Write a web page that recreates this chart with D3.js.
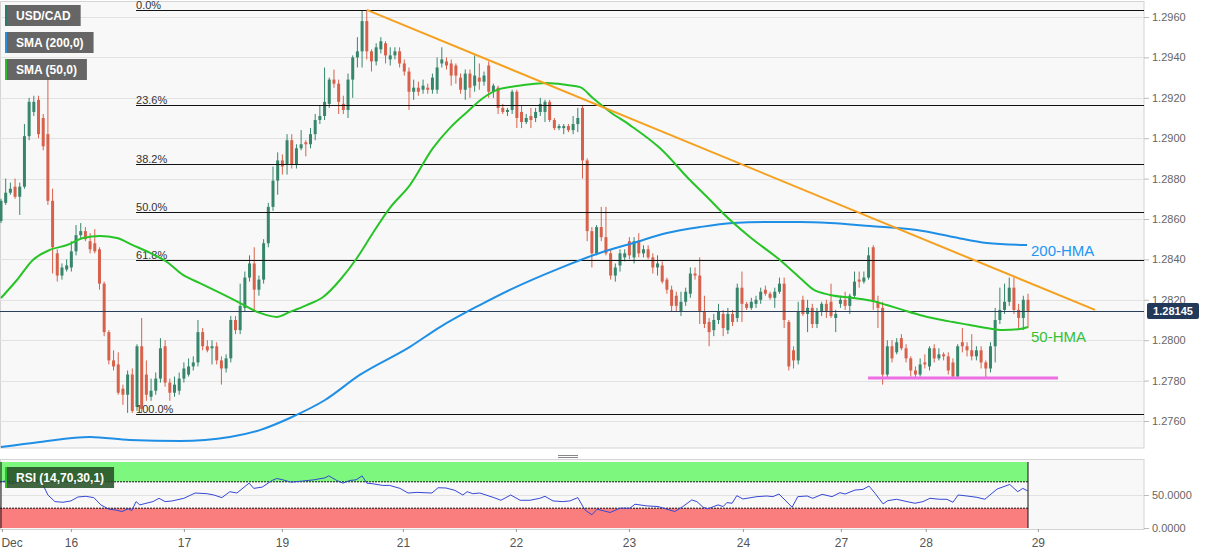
<!DOCTYPE html>
<html>
<head>
<meta charset="utf-8">
<script src="https://cdn.jsdelivr.net/npm/d3@7"></script>
<style>
  body { margin: 0; background: #fff; }
  svg { display: block; font-family: "Liberation Sans", Arial, sans-serif; }
</style>
</head>
<body>
<div id="chart"></div>
<script>
// hourly USD/CAD candles, [open, high, low, close]
var ohlc = [
  [1.2859,1.2870,1.2858,1.2869],[1.2868,1.2880,1.2867,1.2873],[1.2873,1.2878,1.2872,1.2875],[1.2876,1.2880,1.2870,1.2871],
  [1.2871,1.2878,1.2862,1.2876],[1.2876,1.2907,1.2875,1.2901],[1.2901,1.2920,1.2899,1.2918],[1.2913,1.2921,1.2911,1.2918],
  [1.2919,1.2921,1.2900,1.2902],[1.2910,1.2912,1.2894,1.2896],[1.2902,1.2933,1.2867,1.2869],[1.2869,1.2875,1.2833,1.2846],
  [1.2843,1.2845,1.2829,1.2832],[1.2832,1.2838,1.2830,1.2836],[1.2835,1.2840,1.2834,1.2837],[1.2836,1.2849,1.2834,1.2844],
  [1.2844,1.2857,1.2842,1.2852],[1.2852,1.2858,1.2850,1.2854],[1.2854,1.2856,1.2849,1.2850],[1.2849,1.2853,1.2843,1.2845],
  [1.2848,1.2855,1.2843,1.2844],[1.2845,1.2846,1.2825,1.2828],[1.2828,1.2829,1.2802,1.2804],[1.2804,1.2805,1.2788,1.2790],
  [1.2790,1.2795,1.2785,1.2787],[1.2788,1.2794,1.2773,1.2774],[1.2776,1.2778,1.2768,1.2773],[1.2773,1.2785,1.2764,1.2783],
  [1.2783,1.2786,1.2764,1.2765],[1.2767,1.2798,1.2765,1.2797],[1.2797,1.2811,1.2764,1.2766],[1.2783,1.2790,1.2770,1.2773],
  [1.2772,1.2781,1.2770,1.2775],[1.2775,1.2784,1.2773,1.2781],[1.2781,1.2801,1.2779,1.2796],[1.2797,1.2800,1.2777,1.2779],
  [1.2779,1.2781,1.2770,1.2774],[1.2774,1.2782,1.2772,1.2778],[1.2775,1.2784,1.2773,1.2781],[1.2781,1.2789,1.2779,1.2786],
  [1.2783,1.2791,1.2782,1.2787],[1.2787,1.2792,1.2785,1.2789],[1.2789,1.2810,1.2787,1.2804],[1.2804,1.2806,1.2795,1.2797],
  [1.2797,1.2800,1.2794,1.2795],[1.2796,1.2800,1.2788,1.2797],[1.2797,1.2799,1.2788,1.2790],[1.2790,1.2792,1.2778,1.2786],
  [1.2786,1.2793,1.2784,1.2791],[1.2791,1.2812,1.2789,1.2810],[1.2810,1.2812,1.2803,1.2805],[1.2805,1.2828,1.2803,1.2817],
  [1.2816,1.2834,1.2814,1.2831],[1.2831,1.2842,1.2829,1.2838],[1.2838,1.2846,1.2814,1.2825],[1.2825,1.2832,1.2822,1.2830],
  [1.2830,1.2850,1.2828,1.2848],[1.2848,1.2868,1.2846,1.2866],[1.2866,1.2886,1.2864,1.2879],[1.2879,1.2893,1.2872,1.2889],
  [1.2889,1.2892,1.2882,1.2886],[1.2887,1.2902,1.2882,1.2899],[1.2899,1.2902,1.2885,1.2887],[1.2887,1.2897,1.2885,1.2895],
  [1.2895,1.2904,1.2894,1.2897],[1.2898,1.2899,1.2891,1.2897],[1.2897,1.2905,1.2895,1.2902],[1.2902,1.2912,1.2899,1.2909],
  [1.2909,1.2916,1.2907,1.2911],[1.2911,1.2935,1.2909,1.2918],[1.2917,1.2930,1.2915,1.2929],[1.2929,1.2934,1.2925,1.2927],
  [1.2927,1.2929,1.2912,1.2918],[1.2917,1.2921,1.2912,1.2914],[1.2914,1.2932,1.2910,1.2929],[1.2929,1.2941,1.2920,1.2940],
  [1.2940,1.2950,1.2935,1.2943],[1.2943,1.2963,1.2935,1.2958],[1.2958,1.29635,1.2939,1.2943],[1.2943,1.2944,1.2933,1.2938],
  [1.2938,1.2947,1.2936,1.2945],[1.2944,1.2950,1.2942,1.2948],[1.2947,1.2948,1.2937,1.2941],[1.2939,1.2945,1.2936,1.2941],
  [1.2941,1.2945,1.2939,1.2943],[1.2943,1.2945,1.2935,1.2937],[1.2937,1.2939,1.2931,1.2933],[1.2933,1.2935,1.2914,1.2923],
  [1.2923,1.2929,1.2919,1.2925],[1.2925,1.2928,1.2921,1.2923],[1.2924,1.2929,1.2922,1.2926],[1.2925,1.2927,1.2922,1.2924],
  [1.2924,1.2932,1.2922,1.2930],[1.2924,1.2940,1.2922,1.2935],[1.2937,1.2945,1.2935,1.2939],[1.2938,1.2940,1.2934,1.2936],
  [1.2937,1.2939,1.2926,1.2931],[1.2936,1.2937,1.2927,1.2931],[1.2930,1.2932,1.2922,1.2924],[1.2924,1.2934,1.2919,1.2932],
  [1.2932,1.2934,1.2920,1.2925],[1.2926,1.2941,1.2923,1.2931],[1.2930,1.2937,1.2924,1.2928],[1.2928,1.2933,1.2926,1.2931],
  [1.2936,1.2938,1.2920,1.2923],[1.2923,1.2927,1.2920,1.2926],[1.2925,1.2926,1.2912,1.2915],[1.2915,1.2917,1.2912,1.2913],
  [1.2913,1.2915,1.2911,1.2914],[1.2914,1.2924,1.2912,1.2923],[1.2923,1.2924,1.2905,1.2910],[1.2913,1.2916,1.2905,1.2908],
  [1.2908,1.2912,1.2907,1.2910],[1.2911,1.2915,1.2905,1.2909],[1.2910,1.2915,1.2908,1.2913],[1.2913,1.2920,1.2911,1.2917],
  [1.2913,1.2919,1.2908,1.2918],[1.2918,1.2919,1.2908,1.2909],[1.2909,1.2910,1.2904,1.2905],[1.2905,1.2907,1.2904,1.2906],
  [1.2905,1.2907,1.2902,1.2906],[1.2906,1.2907,1.2903,1.2904],[1.2904,1.2911,1.2902,1.2907],[1.2907,1.2915,1.2903,1.2910],
  [1.2915,1.2916,1.2880,1.2889],[1.2889,1.2890,1.2849,1.2854],[1.2854,1.2856,1.2836,1.2843],[1.2843,1.2857,1.2842,1.2856],
  [1.2856,1.2866,1.2849,1.2851],[1.2851,1.2866,1.2842,1.2843],[1.2843,1.2845,1.2830,1.2832],[1.2832,1.2838,1.2829,1.2836],
  [1.2837,1.2845,1.2834,1.2843],[1.2841,1.2845,1.2839,1.2843],[1.2849,1.2851,1.2840,1.2842],[1.2841,1.2851,1.2838,1.2849],
  [1.2849,1.2853,1.2841,1.2843],[1.2843,1.2847,1.2841,1.2845],[1.2845,1.2847,1.2840,1.2841],[1.2841,1.2843,1.2833,1.2836],
  [1.2836,1.2842,1.2832,1.2838],[1.2837,1.2839,1.2828,1.2829],[1.2830,1.2831,1.2823,1.2825],[1.2825,1.2827,1.2814,1.2817],
  [1.2822,1.2824,1.2814,1.2817],[1.2814,1.2824,1.2812,1.2819],[1.2819,1.2826,1.2817,1.2824],[1.2823,1.2836,1.2821,1.2833],
  [1.2833,1.2836,1.2830,1.2832],[1.2832,1.2841,1.2808,1.2814],[1.2814,1.2822,1.2806,1.2808],[1.2809,1.2811,1.2797,1.2804],
  [1.2805,1.2813,1.2802,1.2810],[1.2810,1.2818,1.2808,1.2814],[1.2813,1.2815,1.2802,1.2806],[1.2805,1.2816,1.2803,1.2813],
  [1.2813,1.2815,1.2807,1.2809],[1.2811,1.2828,1.2809,1.2826],[1.2826,1.2834,1.2809,1.2818],[1.2818,1.2819,1.2815,1.2816],
  [1.2816,1.2821,1.2815,1.2819],[1.2818,1.2822,1.2816,1.2820],[1.2820,1.2826,1.2818,1.2824],[1.2825,1.2827,1.2822,1.2823],
  [1.2823,1.2824,1.2820,1.2821],[1.2821,1.2826,1.2816,1.2824],[1.2824,1.2831,1.2823,1.2828],[1.2828,1.2831,1.2806,1.2810],
  [1.2809,1.2810,1.2785,1.2787],[1.2795,1.2797,1.2786,1.2790],[1.2790,1.2819,1.2788,1.2814],[1.2820,1.2822,1.2812,1.2813],
  [1.2813,1.2820,1.2804,1.2816],[1.2816,1.2818,1.2806,1.2808],[1.2808,1.2816,1.2806,1.2814],[1.2814,1.2819,1.2812,1.2818],
  [1.2818,1.2820,1.2811,1.2814],[1.2819,1.2828,1.2811,1.2812],[1.2811,1.2815,1.2804,1.2813],[1.2818,1.2822,1.2816,1.2820],
  [1.2820,1.2824,1.2815,1.2817],[1.2817,1.2823,1.2813,1.2822],[1.2822,1.2834,1.2821,1.2829],[1.2830,1.2834,1.2826,1.2829],
  [1.2829,1.2834,1.2828,1.2831],[1.2831,1.2846,1.2830,1.2842],[1.2846,1.2847,1.2815,1.2819],[1.2819,1.2822,1.2806,1.2816],
  [1.2816,1.2819,1.2778,1.2783],[1.2783,1.2800,1.2781,1.2797],[1.2797,1.2800,1.2789,1.2791],[1.2794,1.2801,1.2793,1.2799],
  [1.2801,1.2803,1.2795,1.2796],[1.2796,1.2798,1.2789,1.2791],[1.2791,1.2792,1.2782,1.2785],[1.2785,1.2787,1.2781,1.2783],
  [1.2783,1.2791,1.2782,1.2788],[1.2789,1.2793,1.2786,1.2788],[1.2787,1.2797,1.2785,1.2796],[1.2796,1.2798,1.2789,1.2791],
  [1.2791,1.2796,1.2790,1.2793],[1.2793,1.2794,1.2790,1.2792],[1.2792,1.2794,1.2783,1.2785],[1.2789,1.2791,1.2781,1.2782],
  [1.2782,1.2798,1.2781,1.2797],[1.2799,1.2806,1.2794,1.2797],[1.2797,1.2799,1.2792,1.2795],[1.2795,1.2803,1.2790,1.2792],
  [1.2792,1.2797,1.2790,1.2795],[1.2795,1.2797,1.2786,1.2789],[1.2789,1.2790,1.2781,1.2786],[1.2786,1.2799,1.2784,1.2797],
  [1.2797,1.2816,1.2789,1.2810],[1.2810,1.2826,1.2808,1.2815],[1.2815,1.2828,1.2813,1.2819],[1.2819,1.2831,1.2817,1.2826],
  [1.2826,1.2831,1.2813,1.2815],[1.2815,1.2818,1.2805,1.2811],[1.2811,1.2822,1.2805,1.2820],[1.2820,1.2823,1.2806,1.28145]
];

// moving averages, [candle index, price]
var sma50 = [
  [0,1.28209],[3.4,1.28298],[6.8,1.28397],[10.4,1.28447],[14.1,1.28471],[17.5,1.28506],[21.1,1.28516],[24.7,1.28506],
  [28.1,1.28471],[31.8,1.28432],[35.4,1.28387],[38.8,1.28323],[42.4,1.28283],[46.7,1.28234],[51,1.28184],[55.2,1.28135],
  [58.8,1.28115],[61.6,1.28140],[65.2,1.28174],[68.7,1.28214],[72.3,1.28298],[75.9,1.28407],[79.3,1.28531],[82.9,1.28654],
  [87.2,1.28768],[92.1,1.28951],[95.7,1.29050],[99.4,1.29130],[102.8,1.29199],[106.4,1.29244],[110,1.29258],[113.4,1.29268],
  [116.4,1.29273],[120.7,1.29263],[123.5,1.29253],[126.2,1.29199],[129.9,1.29130],[134.1,1.29065],[140.5,1.28951],[146.9,1.28793],
  [151.2,1.28694],[153.9,1.28630],[159.7,1.28511],[166.1,1.28397],[170.4,1.28308],[173.1,1.28253],[176.8,1.28224],[181.7,1.28209],
  [185.9,1.28194],[188.9,1.28174],[192.3,1.28150],[195.9,1.28125],[199.6,1.28105],[203,1.28090],[206.6,1.28075],[210.2,1.28060],
  [213.6,1.28050],[217.3,1.28055],[219,1.28065]
];
var sma200 = [
  [0,1.27471],[8.3,1.27496],[19,1.27521],[27.5,1.27506],[38.2,1.27501],[48.8,1.27521],[55.2,1.27555],[61.6,1.27615],
  [69.1,1.27704],[76.5,1.27828],[87.2,1.27967],[93.6,1.28065],[102.1,1.28174],[108.5,1.28249],[119.2,1.28357],[127.7,1.28432],
  [134.8,1.28481],[142,1.28531],[149,1.28560],[156.1,1.28580],[163.3,1.28585],[170.4,1.28585],[176.8,1.28580],[185.3,1.28565],
  [195.3,1.28545],[203,1.28511],[210.2,1.28481],[218.8,1.28471]
];

// RSI(14), [candle index, value]
var rsi = [
  [0,69.5],[1.1,72],[2.1,67],[3.8,69.5],[5.1,73],[6.4,71],[7.5,73],[8.7,69.5],[10,50],[11.5,40],[13.2,39],[14.9,41],
  [16.4,47],[18.1,48],[19.8,46],[21.3,35],[23,28.5],[24.3,27.5],[25.8,25],[27.1,29],[27.9,26.5],[28.8,40],[29.6,35],[30.7,37],
  [32.4,40],[33.7,45],[35,40],[36.5,41],[39,45],[41.4,53],[43.9,52],[45.4,50],[47.1,46],[48.8,55],[50.3,53],[52.9,68],
  [53.9,60],[55.7,62],[57.8,72],[58.8,75],[60.1,73],[61.8,69.5],[64.2,71],[66.7,73],[69.1,76],[69.9,79],[71.6,72],[72.9,68],
  [74.4,72],[75.7,73],[77,79],[78,68],[79.3,67],[81.4,64.5],[82.9,64.5],[85.1,60],[86.8,53],[88.7,54],[91.9,53],[93.2,61],
  [94.9,60.6],[96.8,57],[98.5,50],[99.4,55],[100.6,52],[102.1,53],[103,51],[105.1,46],[106.6,42],[108.7,50],[110.7,42],[112.8,42],
  [114.9,45],[116,48],[117.7,41],[119.8,40],[121.3,41],[123,46],[124.5,27.5],[126,20],[127.1,28.5],[129.9,23.5],[132,30],[134.1,30],
  [135.2,36],[137.7,33.5],[140.1,32.5],[142,28.5],[143.7,25],[145.4,32.5],[147.3,42.5],[148.4,40],[149.7,31.5],[150.7,29],[152.9,35],[154,32.5],
  [154.8,38.5],[155.9,37.5],[156.9,49],[158.2,44],[161.2,47.5],[163.3,48.5],[164.6,47.5],[165.9,51.5],[168.7,31.5],[169.9,47.5],[171.9,48.5],[173.1,45],
  [175.1,51],[177.2,47.5],[178.9,53.5],[180,51.5],[182.1,57.5],[183.8,58.5],[185.1,63.5],[186.4,52.5],[188.1,36.5],[189.1,41.5],[191,43.5],[193.2,40],
  [194.9,37.5],[196.6,40],[198.1,45],[200.2,43.5],[201.7,43.5],[203,39],[204.1,50],[206,48.5],[208.1,46.5],[209.8,43.5],[212.4,59],[215.1,66],
  [216.8,55],[217.9,60],[219,56]
];

var priceTicks = [1.2760, 1.2780, 1.2800, 1.2820, 1.2840, 1.2860, 1.2880, 1.2900, 1.2920, 1.2940, 1.2960];
var rsiTicks = [0, 50];
var dayTicks = [0.2, 14.9, 39, 59.9, 85.7, 109.8, 133.9, 158.2, 179.1, 197.2, 221.1];
var dayLabels = ["Dec", "16", "17", "19", "21", "22", "23", "24", "27", "28", "29"];

var fibRatios = [0, 0.236, 0.382, 0.5, 0.618, 1];
var fibHigh = 1.29635, fibLow = 1.27635, fibFrom = 28.8;
var trendLine = [[78, 1.29635], [233.3, 1.2815]];
var supportLine = [[184.9, 1.27813], [225.4, 1.27813]];
var lastPrice = 1.28145;

var width = 1207, height = 555;
var plotRight = 1144, mainBottom = 448, rsiTop = 459, rsiBottom = 529;

var x = d3.scaleLinear().domain([0, 219]).range([1, 1028]);
var y = d3.scaleLinear().domain([1.2760, 1.2960]).range([421, 17]);
var yr = d3.scaleLinear().domain([0, 100]).range([528, 462]);

var svg = d3.select("#chart").append("svg")
    .attr("width", width).attr("height", height);

svg.append("defs").append("clipPath").attr("id", "mainClip")
  .append("rect").attr("x", 0).attr("y", 1).attr("width", plotRight).attr("height", mainBottom - 1);

// panels
svg.append("rect").attr("x", 0.5).attr("y", 1.5).attr("width", plotRight - 0.5).attr("height", mainBottom - 1.5)
    .attr("fill", "#f8f8f8").attr("stroke", "#d4d4d4");
svg.append("rect").attr("x", 0.5).attr("y", rsiTop + 0.5).attr("width", plotRight - 0.5).attr("height", rsiBottom - rsiTop)
    .attr("fill", "#f8f8f8").attr("stroke", "#d4d4d4");

// grid
svg.append("g").selectAll("line").data(priceTicks).enter().append("line")
    .attr("x1", 0).attr("x2", plotRight)
    .attr("y1", function(d){ return Math.round(y(d)) + 0.5; })
    .attr("y2", function(d){ return Math.round(y(d)) + 0.5; })
    .attr("stroke", "#e2e2e2");

var main = svg.append("g").attr("clip-path", "url(#mainClip)");

// candles
var up = "#37866c", down = "#d8614b";
var candle = main.append("g").selectAll("g").data(ohlc).enter().append("g");
candle.append("line")
    .attr("x1", function(d, i){ return x(i); }).attr("x2", function(d, i){ return x(i); })
    .attr("y1", function(d){ return y(d[1]); }).attr("y2", function(d){ return y(d[2]); })
    .attr("stroke", function(d){ return d[3] >= d[0] ? up : down; })
    .attr("stroke-width", 1);
candle.append("rect")
    .attr("x", function(d, i){ return x(i) - 1.5; })
    .attr("width", 3)
    .attr("y", function(d){ return y(Math.max(d[0], d[3])); })
    .attr("height", function(d){ return Math.max(1, Math.abs(y(d[0]) - y(d[3]))); })
    .attr("fill", function(d){ return d[3] >= d[0] ? up : down; });

// fibonacci retracement
var fib = main.append("g");
fibRatios.forEach(function(r){
    var p = fibHigh - r * (fibHigh - fibLow);
    var yy = Math.round(y(p)) + 0.5;
    fib.append("line").attr("x1", x(fibFrom)).attr("x2", plotRight)
        .attr("y1", yy).attr("y2", yy).attr("stroke", "#111").attr("stroke-width", 1);
    fib.append("text").attr("x", x(fibFrom)).attr("y", yy - 2)
        .attr("font-size", 11).attr("fill", "#333")
        .text((r * 100).toFixed(1) + "%");
});

// last price line
main.append("line").attr("x1", 0).attr("x2", plotRight)
    .attr("y1", Math.round(y(lastPrice)) + 0.5).attr("y2", Math.round(y(lastPrice)) + 0.5)
    .attr("stroke", "#2c3e5a").attr("stroke-width", 1);

var line = d3.line()
    .x(function(d){ return x(d[0]); })
    .y(function(d){ return y(d[1]); })
    .curve(d3.curveMonotoneX);

main.append("path").datum(sma200).attr("d", line)
    .attr("fill", "none").attr("stroke", "#1f8fe6").attr("stroke-width", 2);
main.append("path").datum(sma50).attr("d", line)
    .attr("fill", "none").attr("stroke", "#27c427").attr("stroke-width", 2);

var straight = d3.line().x(function(d){ return x(d[0]); }).y(function(d){ return y(d[1]); });
main.append("path").datum(trendLine).attr("d", straight)
    .attr("fill", "none").attr("stroke", "#f5a01e").attr("stroke-width", 2);
main.append("path").datum(supportLine).attr("d", straight)
    .attr("fill", "none").attr("stroke", "#ee6fe3").attr("stroke-width", 3);

// line labels
svg.append("text").attr("x", x(219) + 3).attr("y", y(sma200[sma200.length - 1][1]) + 11)
    .attr("font-size", 15).attr("fill", "#2196f3").text("200-HMA");
svg.append("text").attr("x", x(219) + 3).attr("y", y(sma50[sma50.length - 1][1]) + 15)
    .attr("font-size", 15).attr("fill", "#33c233").text("50-HMA");

// price axis
var yAxis = svg.append("g").attr("transform", "translate(" + plotRight + ",0)")
    .call(d3.axisRight(y).tickValues(priceTicks).tickFormat(d3.format(".4f")).tickSize(5).tickPadding(3));
yAxis.select(".domain").remove();
yAxis.selectAll("line").attr("stroke", "#bbb");
yAxis.selectAll("text").attr("font-size", 11).attr("fill", "#666").attr("font-family", "Liberation Sans, Arial, sans-serif");

// last price tag
var tagY = y(lastPrice);
svg.append("rect").attr("x", plotRight + 3).attr("y", tagY - 8).attr("width", 52).attr("height", 16)
    .attr("rx", 2).attr("fill", "#22395a");
svg.append("text").attr("x", plotRight + 29).attr("y", tagY + 4)
    .attr("text-anchor", "middle").attr("font-size", 11).attr("font-weight", "bold")
    .attr("fill", "#fff").text(lastPrice.toFixed(5));

// separator handle
[455, 457].forEach(function(yy){
    svg.append("line").attr("x1", 558).attr("x2", 578).attr("y1", yy + 0.5).attr("y2", yy + 0.5)
        .attr("stroke", "#888");
});

// RSI panel
var rsiG = svg.append("g");
rsiG.append("line").attr("x1", 0).attr("x2", plotRight)
    .attr("y1", Math.round(yr(50)) + 0.5).attr("y2", Math.round(yr(50)) + 0.5).attr("stroke", "#e2e2e2");
rsiG.append("rect").attr("x", 0).attr("y", yr(100)).attr("width", x(219))
    .attr("height", yr(70) - yr(100)).attr("fill", "#7df77d");
rsiG.append("rect").attr("x", 0).attr("y", yr(30)).attr("width", x(219))
    .attr("height", yr(0) - yr(30)).attr("fill", "#fb7e7e");
[70, 30].forEach(function(v){
    rsiG.append("line").attr("x1", 0).attr("x2", x(219))
        .attr("y1", yr(v)).attr("y2", yr(v))
        .attr("stroke", "#111").attr("stroke-dasharray", "2,1");
});
rsiG.append("line").attr("x1", x(219)).attr("x2", x(219)).attr("y1", yr(100)).attr("y2", yr(0))
    .attr("stroke", "#111");
rsiG.append("line").attr("x1", 1).attr("x2", 1).attr("y1", yr(100)).attr("y2", yr(0))
    .attr("stroke", "#111");

var rsiLine = d3.line().x(function(d){ return x(d[0]); }).y(function(d){ return yr(d[1]); });
rsiG.append("path").datum(rsi).attr("d", rsiLine)
    .attr("fill", "none").attr("stroke", "#3548d6").attr("stroke-width", 1);

var rAxis = svg.append("g").attr("transform", "translate(" + plotRight + ",0)")
    .call(d3.axisRight(yr).tickValues(rsiTicks).tickFormat(d3.format(".4f")).tickSize(5).tickPadding(3));
rAxis.select(".domain").remove();
rAxis.selectAll("line").attr("stroke", "#bbb");
rAxis.selectAll("text").attr("font-size", 11).attr("fill", "#666").attr("font-family", "Liberation Sans, Arial, sans-serif");

// time axis
var xAxis = svg.append("g").attr("transform", "translate(0," + rsiBottom + ")")
    .call(d3.axisBottom(x).tickValues(dayTicks)
        .tickFormat(function(d, i){ return dayLabels[i]; }).tickSize(3).tickPadding(6));
xAxis.select(".domain").remove();
xAxis.selectAll("line").attr("stroke", "#999");
xAxis.selectAll("text").attr("font-size", 12).attr("fill", "#555").attr("font-family", "Liberation Sans, Arial, sans-serif");
xAxis.selectAll("text").filter(function(d, i){ return i === 0; }).attr("text-anchor", "start").attr("x", -1);

// legend tags
function tag(label, ty, strip, bg) {
    var g = svg.append("g");
    var r = g.append("rect").attr("x", 5).attr("y", ty).attr("height", 21).attr("fill", bg);
    g.append("rect").attr("x", 5).attr("y", ty).attr("width", 2).attr("height", 21).attr("fill", strip);
    var t = g.append("text").attr("x", 16).attr("y", ty + 15)
        .attr("font-size", 12).attr("font-weight", "bold").attr("fill", "#fff").text(label);
    r.attr("width", t.node().getComputedTextLength() + 21);
}
tag("USD/CAD", 5, "#2d7a6a", "rgba(90,90,90,0.93)");
tag("SMA (200,0)", 32, "#2a8fd6", "rgba(90,90,90,0.93)");
tag("SMA (50,0)", 59, "#2bbd2b", "rgba(90,90,90,0.93)");
tag("RSI (14,70,30,1)", 467, "#2bbd2b", "rgba(40,80,40,0.88)");
</script>
</body>
</html>
